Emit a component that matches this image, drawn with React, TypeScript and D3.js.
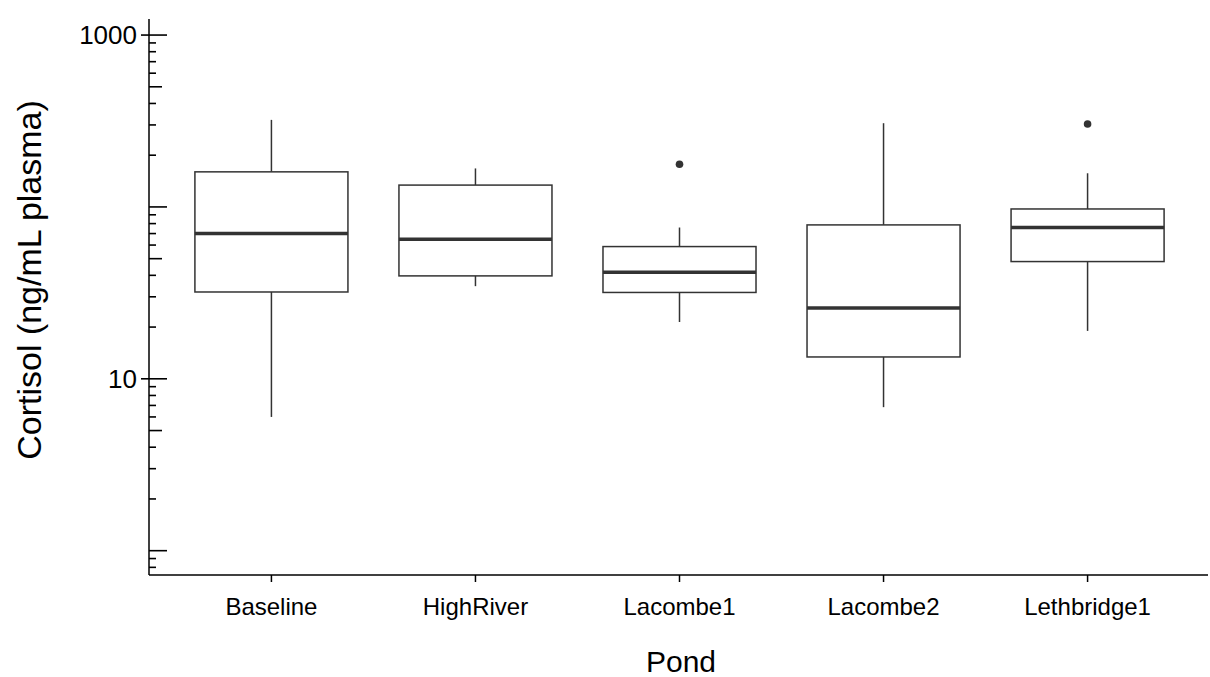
import React from "react";
import * as d3 from "d3";

const categories = ["Baseline", "HighRiver", "Lacombe1", "Lacombe2", "Lethbridge1"];
const whiskerLow = [6.0, 34.6, 21.4, 6.84, 19.0];
const q1 = [32, 39.7, 31.8, 13.4, 48.1];
const median = [70, 64.9, 41.7, 25.8, 75.9];
const q3 = [160, 134, 58.8, 78.6, 97.3];
const whiskerHigh = [321, 167.5, 75.9, 307, 157];
const outliers: [string, number][] = [
  ["Lacombe1", 177],
  ["Lethbridge1", 304],
];
const labeledTicks = [10, 1000];
const tickDecades = [0.1, 1, 10, 100, 1000];
const tickMultipliers = [1, 2, 3, 4, 5, 6, 7, 8, 9];
const yTitle = "Cortisol (ng/mL plasma)";
const xTitle = "Pond";

const W = 1210;
const H = 677;
const FONT = "'Liberation Sans', Arial, sans-serif";

export default function App() {
  const x = d3.scalePoint<string>().domain(categories).range([149, 1210]).padding(0.6);
  const y = d3.scaleLog().domain([0.722, 1240]).range([575, 19]);
  const step = x.step();
  const bw = step * 0.75;
  const ink = "#333333";
  const [dMin, dMax] = y.domain();
  const ticks: { v: number; m: number }[] = [];
  tickDecades.forEach((d) =>
    tickMultipliers.forEach((m) => {
      const v = d * m;
      if (v >= dMin && v <= dMax) ticks.push({ v, m });
    })
  );

  return (
    <svg width={W} height={H} style={{ position: "absolute", left: 0, top: 0, background: "#fff" }}>
      {/* y axis */}
      <line x1={149} x2={149} y1={y.range()[1]} y2={575} stroke="#000" strokeWidth={1.5} />
      {ticks.map(({ v, m }, i) => {
        const yy = y(v);
        const labeled = labeledTicks.includes(v);
        let x1 = 149;
        let x2 = 156;
        if (m === 1) {
          x2 = 167;
          if (labeled) x1 = 141;
        } else if (m === 5) {
          x2 = 162;
        }
        return <line key={i} x1={x1} x2={x2} y1={yy} y2={yy} stroke="#000" strokeWidth={1.6} />;
      })}
      {labeledTicks.map((t) => (
        <text key={t} x={137} y={y(t)} dy="0.35em" textAnchor="end" fontFamily={FONT} fontSize={26} fill="#000">
          {t}
        </text>
      ))}
      {/* x axis */}
      <line x1={149} x2={1208} y1={575} y2={575} stroke="#000" strokeWidth={1.5} />
      {categories.map((c) => (
        <g key={c}>
          <line x1={x(c)} x2={x(c)} y1={575} y2={582} stroke="#000" strokeWidth={1.5} />
          <text x={x(c)} y={607} dy="0.35em" textAnchor="middle" fontFamily={FONT} fontSize={24} fill="#000">
            {c}
          </text>
        </g>
      ))}
      {/* boxes */}
      {categories.map((c, i) => {
        const cx = x(c) as number;
        return (
          <g key={c}>
            <line x1={cx} x2={cx} y1={y(whiskerHigh[i])} y2={y(q3[i])} stroke={ink} strokeWidth={1.5} />
            <line x1={cx} x2={cx} y1={y(q1[i])} y2={y(whiskerLow[i])} stroke={ink} strokeWidth={1.5} />
            <rect
              x={cx - bw / 2}
              y={y(q3[i])}
              width={bw}
              height={y(q1[i]) - y(q3[i])}
              fill="#fff"
              stroke={ink}
              strokeWidth={1.5}
            />
            <line x1={cx - bw / 2} x2={cx + bw / 2} y1={y(median[i])} y2={y(median[i])} stroke={ink} strokeWidth={3.5} />
          </g>
        );
      })}
      {outliers.map(([c, v], i) => (
        <circle key={i} cx={x(c)} cy={y(v)} r={3.8} fill={ink} />
      ))}
      {/* titles */}
      <text x={681} y={661} dy="0.35em" textAnchor="middle" fontFamily={FONT} fontSize={30} fill="#000">
        {xTitle}
      </text>
      <text
        transform={`translate(29, 280) rotate(-90)`}
        dy="0.35em"
        textAnchor="middle"
        fontFamily={FONT}
        fontSize={34}
        fill="#000"
      >
        {yTitle}
      </text>
    </svg>
  );
}
